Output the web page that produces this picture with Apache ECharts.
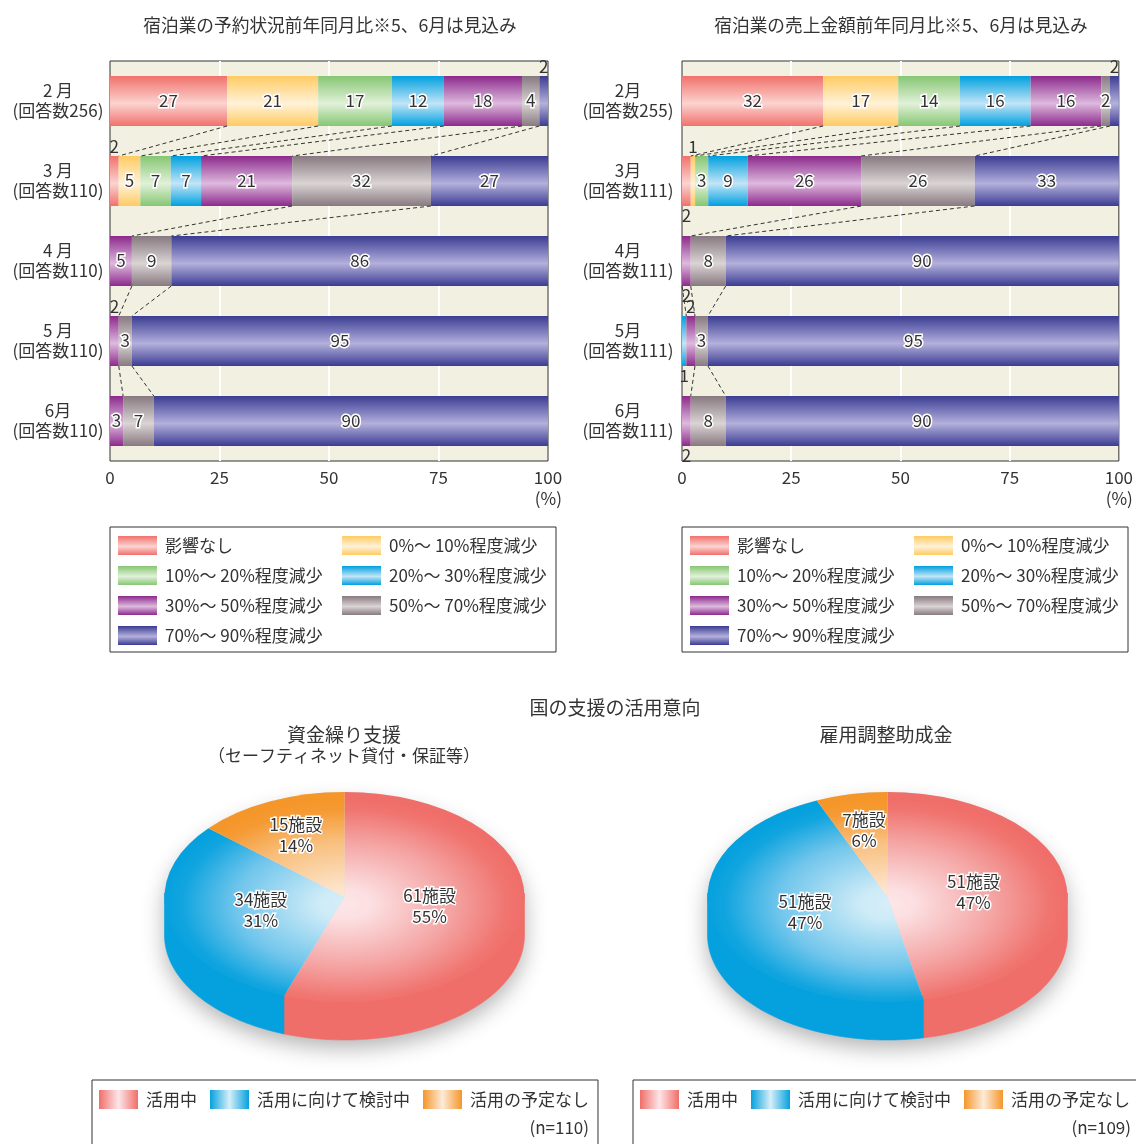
<!DOCTYPE html>
<html>
<head>
<meta charset="utf-8">
<script src="https://cdn.jsdelivr.net/npm/echarts@6/dist/echarts.min.js"></script>
<style>
  html, body { margin: 0; padding: 0; background: #fff; }
  #chart { width: 1136px; height: 1144px; }
</style>
</head>
<body>
<div id="chart"></div>
<script>
const FONT = '"Noto Sans CJK JP", "Noto Sans", sans-serif';
const TEXT = '#333';

// ── Categories ──
const levels = ['影響なし', '0%〜 10%程度減少', '10%〜 20%程度減少', '20%〜 30%程度減少',
                '30%〜 50%程度減少', '50%〜 70%程度減少', '70%〜 90%程度減少'];
const reserveMonths = ['2 月\n(回答数256)', '3 月\n(回答数110)', '4 月\n(回答数110)', '5 月\n(回答数110)', '6月\n(回答数110)'];
const salesMonths   = ['2月\n(回答数255)', '3月\n(回答数111)', '4月\n(回答数111)', '5月\n(回答数111)', '6月\n(回答数111)'];

// ── Shares (%) : one row per level, one column per month ──
const reserveShares = [
  [27,  2,  0,  0,  0],
  [21,  5,  0,  0,  0],
  [17,  7,  0,  0,  0],
  [12,  7,  0,  0,  0],
  [18, 21,  5,  2,  3],
  [ 4, 32,  9,  3,  7],
  [ 2, 27, 86, 95, 90],
];
const salesShares = [
  [32,  2,  0,  0,  0],
  [17,  1,  0,  0,  0],
  [14,  3,  0,  0,  0],
  [16,  9,  0,  1,  0],
  [16, 26,  2,  2,  2],
  [ 2, 26,  8,  3,  8],
  [ 2, 33, 90, 95, 90],
];

// ── Pie data (施設数) ──
const pieNames     = ['活用中', '活用に向けて検討中', '活用の予定なし'];
const fundsValues  = [61, 34, 15];
const employValues = [51, 51, 7];

// small segments whose number sits outside the bar ("level-month")
const reserveOutside = { '0-1': 'top', '6-0': 'top', '4-3': 'top' };
const salesOutside   = { '6-0': 'top', '0-1': 'bottom', '1-1': 'top', '4-2': 'bottom',
                         '3-3': 'bottom', '4-3': 'top', '4-4': 'bottom' };

// ── Colours ──
const LEVEL_COLORS = [
  ['#F1716C', '#FBD3D0'],
  ['#FFCB62', '#FFF2D8'],
  ['#86C673', '#E1F1D9'],
  ['#00A0DF', '#C2E5F7'],
  ['#8C2A8C', '#DDBADD'],
  ['#877980', '#DAD4D4'],
  ['#3B3C93', '#B4B0DC'],
];
const PIE_COLORS = [
  { edge: '#F06E69', stops: ['#FDE6E8', '#FCDFE1', '#F4A3A2', '#F07570', '#F06E69'] },
  { edge: '#05A1DE', stops: ['#D6EEF8', '#CDEBF7', '#72C6EC', '#12A5DF', '#05A1DE'] },
  { edge: '#F5962A', stops: ['#FDEBD8', '#FCE4CB', '#F8BF7C', '#F59A33', '#F5962A'] },
];

const BAR_H = 50;
const SQUASH = 105 / 180;
const DEPTH = 38;

const barGradient = (k) => new echarts.graphic.LinearGradient(0, 0, 0, 1, [
  { offset: 0, color: LEVEL_COLORS[k][0] },
  { offset: 0.55, color: LEVEL_COLORS[k][1] },
  { offset: 1, color: LEVEL_COLORS[k][0] },
]);
const pieLegendGradient = (k) => new echarts.graphic.LinearGradient(0, 0, 1, 0, [
  { offset: 0, color: PIE_COLORS[k].edge },
  { offset: 0.5, color: PIE_COLORS[k].stops[0] },
  { offset: 1, color: PIE_COLORS[k].edge },
]);

// ── Stacked 100% bars ──
function monthTotal(shares, m) {
  return shares.reduce((s, row) => s + row[m], 0);
}

function barSeries(shares, outside, idx) {
  return shares.map((row, k) => ({
    name: levels[k], type: 'bar', stack: 'g' + idx,
    xAxisIndex: idx, yAxisIndex: idx, barWidth: BAR_H,
    itemStyle: { color: barGradient(k) },
    label: {
      fontFamily: FONT, fontSize: 17, color: TEXT,
      textBorderColor: '#fff', textBorderWidth: 3,
      formatter: p => p.data.raw,
    },
    data: row.map((v, m) => {
      const side = outside[k + '-' + m];
      return {
        value: v / monthTotal(shares, m) * 100, raw: v,
        label: { show: v > 0, position: side || 'inside', distance: 1,
                 textBorderWidth: side ? 0 : 3 },
      };
    }),
    z: 2,
  }));
}

// dashed connectors between segment boundaries of consecutive months
function linkSeries(shares, idx) {
  const months = shares[0].length;
  const cum = [];
  for (let m = 0; m < months; m++) {
    let s = 0;
    const t = monthTotal(shares, m);
    cum.push(shares.map(row => (s += row[m]) / t * 100));
  }
  const data = [];
  for (let m = 0; m < months - 1; m++) {
    for (let k = 0; k < shares.length - 1; k++) {
      if (cum[m + 1][k] > 0) data.push([cum[m][k], m, cum[m + 1][k], m + 1]);
    }
  }
  return {
    type: 'custom', name: 'links' + idx, xAxisIndex: idx, yAxisIndex: idx,
    silent: true, z: 3,
    encode: { x: [0, 2], y: [1, 3] },
    data,
    renderItem: (params, api) => {
      const a = api.coord([api.value(0), api.value(1)]);
      const b = api.coord([api.value(2), api.value(3)]);
      return {
        type: 'line',
        shape: { x1: a[0], y1: a[1] + BAR_H / 2, x2: b[0], y2: b[1] - BAR_H / 2 },
        style: { stroke: '#333', lineWidth: 1, lineDash: [4, 3] },
      };
    },
  };
}

// ── Elliptic 3D pie drawn on a polar system ──
function angleOf(api, cs, v) {
  const p = api.coord([1, v]);
  return Math.atan2(p[1] - cs.cy, p[0] - cs.cx);
}

function renderSlice(params, api, values, k) {
  const cs = params.coordSys;
  const cx = cs.cx, cy = cs.cy, R = cs.r;
  const total = values.reduce((a, b) => a + b, 0);
  let start = 0;
  for (let j = 0; j < k; j++) start += values[j];
  const end = start + values[k];
  const a0 = angleOf(api, cs, start);
  let a1 = angleOf(api, cs, end);
  while (a1 <= a0) a1 += Math.PI * 2;
  const col = PIE_COLORS[k];
  const children = [];
  const ept = (a, dy) => [cx + R * Math.cos(a), cy + R * SQUASH * Math.sin(a) + dy];

  if (k === 0) {
    // soft shadow under the whole pie
    const pts = [];
    for (let i = 0; i <= 60; i++) pts.push(ept(Math.PI + Math.PI * i / 60, 0));
    for (let i = 0; i <= 60; i++) pts.push(ept(Math.PI * i / 60, DEPTH - 4));
    children.push({
      type: 'polygon', shape: { points: pts }, z2: 0,
      style: { fill: '#ddd', shadowColor: 'rgba(0,0,0,0.3)', shadowBlur: 22, shadowOffsetY: 12 },
    });
  }

  // side wall on the front half (starts a little under the top face)
  [[0, Math.PI], [2 * Math.PI, 3 * Math.PI]].forEach(([lo, hi]) => {
    const s = Math.max(a0, lo), e = Math.min(a1, hi);
    if (e <= s) return;
    const pts = [];
    const n = 40;
    for (let i = 0; i <= n; i++) pts.push(ept(s + (e - s) * i / n, -4));
    for (let i = n; i >= 0; i--) pts.push(ept(s + (e - s) * i / n, DEPTH));
    children.push({ type: 'polygon', shape: { points: pts }, z2: 2, style: { fill: col.edge, stroke: col.edge, lineWidth: 0.6 } });
  });

  // top face
  children.push({
    type: 'sector', z2: 10,
    shape: { cx, cy, r: R, r0: 0, startAngle: a0, endAngle: a1, clockwise: true },
    scaleX: 1, scaleY: SQUASH, originX: cx, originY: cy,
    style: {
      fill: {
        type: 'radial', x: cx, y: cy + 12, r: R, global: true,
        colorStops: [0, 0.15, 0.6, 0.9, 1].map((o, i) => ({ offset: o, color: col.stops[i] })),
      },
    },
  });

  // label
  const share = values[k] / total;
  const f = share < 0.2 ? 0.65 : 0.48;
  const mid = (a0 + a1) / 2;
  const lp = [cx + R * f * Math.cos(mid), cy + R * SQUASH * f * Math.sin(mid)];
  children.push({
    type: 'text', x: lp[0], y: lp[1], z2: 20,
    style: {
      text: values[k] + '施設\n' + Math.round(share * 100) + '%',
      fill: TEXT, stroke: '#fff', lineWidth: 3,
      fontSize: 17, fontFamily: FONT, lineHeight: 21,
      align: 'center', verticalAlign: 'middle',
    },
  });
  return { type: 'group', children };
}

function pieSeries(values, polarIndex) {
  return values.map((v, k) => ({
    name: pieNames[k], type: 'custom', coordinateSystem: 'polar', polarIndex,
    silent: true, data: [[1, v]],
    itemStyle: { color: PIE_COLORS[k].edge },
    renderItem: (params, api) => renderSlice(params, api, values, k),
  }));
}

// ── Axes ──
const xAxisFor = (idx) => ({
  gridIndex: idx, type: 'value', min: 0, max: 100, interval: 25,
  axisLine: { show: false }, axisTick: { show: false },
  splitLine: { show: true, showMinLine: false, showMaxLine: false, lineStyle: { color: '#fff', width: 2 } },
  axisLabel: { fontFamily: FONT, fontSize: 17, color: TEXT, margin: 8 },
  name: '(%)', nameLocation: 'end', nameGap: 14,
  nameTextStyle: { fontFamily: FONT, fontSize: 17, color: TEXT, align: 'right', verticalAlign: 'top', padding: [29, 0, 0, 0] },
});
const yAxisFor = (idx, months, margin) => ({
  gridIndex: idx, type: 'category', inverse: true, data: months,
  axisLine: { show: false }, axisTick: { show: false },
  axisLabel: { fontFamily: FONT, fontSize: 17, lineHeight: 20, color: TEXT, align: 'center', margin, padding: [0, 0, 4, 0] },
});

const barLegend = (left) => ({
  left, top: 527, width: 440, orient: 'horizontal',
  itemWidth: 39, itemHeight: 19, itemGap: 11,
  padding: [9, 1, 7, 8], borderColor: '#333', borderWidth: 1,
  icon: 'rect', selectedMode: false,
  textStyle: { fontFamily: FONT, fontSize: 17, color: TEXT, width: 166, lineHeight: 19, padding: [0, 0, 0, 3] },
  data: levels.map((n, k) => ({ name: n, itemStyle: { color: barGradient(k) } })),
});
const pieLegend = (left) => ({
  left, top: 1080, width: 560, orient: 'horizontal',
  itemWidth: 39, itemHeight: 19, itemGap: 13,
  padding: [10, 9, 60, 7], borderColor: '#333', borderWidth: 1,
  icon: 'rect', selectedMode: false,
  textStyle: { fontFamily: FONT, fontSize: 17, color: TEXT, lineHeight: 19, padding: [0, 0, 0, 3] },
  data: pieNames.map((n, k) => ({ name: n, itemStyle: { color: pieLegendGradient(k) } })),
});

const titleText = (text, x, top, size = 17, align = 'center') => ({
  text, left: x, top, textAlign: align, padding: 0,
  textStyle: { fontFamily: FONT, fontSize: size, fontWeight: 'normal', color: TEXT, lineHeight: 21 },
});

const chart = echarts.init(document.getElementById('chart'));
chart.setOption({
  backgroundColor: '#fff',
  animation: false,
  title: [
    titleText('宿泊業の予約状況前年同月比※5、6月は見込み', 330, 15, 17.7),
    titleText('宿泊業の売上金額前年同月比※5、6月は見込み', 901, 15, 17.7),
    titleText('国の支援の活用意向', 615, 697, 19),
    titleText('資金繰り支援', 344, 724, 19),
    titleText('（セーフティネット貸付・保証等）', 344, 745),
    titleText('雇用調整助成金', 886, 724, 19),
    titleText('(n=110)', 589, 1117, 17, 'right'),
    titleText('(n=109)', 1131, 1117, 17, 'right'),
  ],
  grid: [
    { left: 110, top: 61, width: 438, height: 400, show: true, backgroundColor: '#F2F0E1', borderColor: '#333', borderWidth: 1 },
    { left: 682, top: 61, width: 438, height: 400, show: true, backgroundColor: '#F2F0E1', borderColor: '#333', borderWidth: 1 },
  ],
  xAxis: [xAxisFor(0), xAxisFor(1)],
  yAxis: [yAxisFor(0, reserveMonths, 52), yAxisFor(1, salesMonths, 54)],
  polar: [
    { center: [344.5, 897], radius: 180 },
    { center: [887.5, 897], radius: 180 },
  ],
  angleAxis: [
    { polarIndex: 0, type: 'value', min: 0, max: fundsValues.reduce((a, b) => a + b, 0), startAngle: 90, clockwise: true, show: false },
    { polarIndex: 1, type: 'value', min: 0, max: employValues.reduce((a, b) => a + b, 0), startAngle: 90, clockwise: true, show: false },
  ],
  radiusAxis: [
    { polarIndex: 0, type: 'value', min: 0, max: 1, show: false },
    { polarIndex: 1, type: 'value', min: 0, max: 1, show: false },
  ],
  legend: [barLegend(110), barLegend(682), pieLegend(92), pieLegend(633)],
  series: [
    ...barSeries(reserveShares, reserveOutside, 0),
    ...barSeries(salesShares, salesOutside, 1),
    linkSeries(reserveShares, 0),
    linkSeries(salesShares, 1),
    ...pieSeries(fundsValues, 0),
    ...pieSeries(employValues, 1),
  ],
});
</script>
</body>
</html>
